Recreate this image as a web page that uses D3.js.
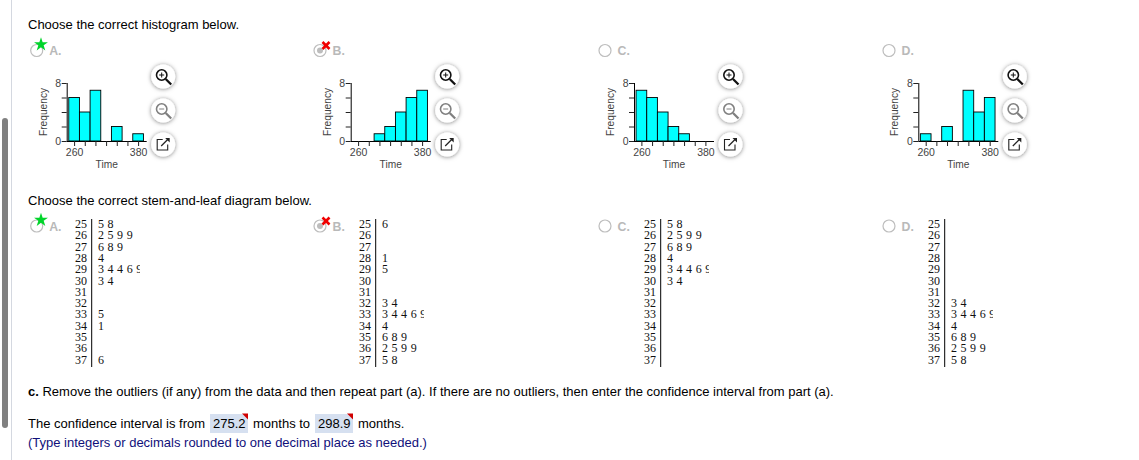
<!DOCTYPE html>
<html><head><meta charset="utf-8">
<script src="https://d3js.org/d3.v7.min.js"></script>
<style>html,body{margin:0;padding:0;background:#fff;overflow:hidden}svg{display:block}
text{font-family:"Liberation Sans",Arial,sans-serif}</style></head><body>
<svg id="c" width="1139" height="460"></svg>
<script>
const optionLetters = ["A.","B.","C.","D."];
const binStarts = [250,270,290,310,330,350,370];
const histA = [6,4,7,0,2,0,1];
const histB = [0,0,1,2,4,6,7];
const histC = [7,6,4,2,1,0,0];
const histD = [1,0,2,0,7,4,6];
const xTicks = [260,280,300,320,340,360,380];
const stems = [25,26,27,28,29,30,31,32,33,34,35,36,37];
const leavesA = ["5 8","2 5 9 9","6 8 9","4","3 4 4 6 9","3 4","","","5","1","","","6"];
const leavesB = ["6","","","1","5","","","3 4","3 4 4 6 9","4","6 8 9","2 5 9 9","5 8"];
const leavesC = ["5 8","2 5 9 9","6 8 9","4","3 4 4 6 9","3 4","","","","","","",""];
const leavesD = ["","","","","","","","3 4","3 4 4 6 9","4","6 8 9","2 5 9 9","5 8"];
const histograms = [histA,histB,histC,histD];
const leafSets = [leavesA,leavesB,leavesC,leavesD];
const axisLefts = [66.7,350.7,634,918.3];
const radioX = [36.7,320,605,889];
const stemX = [75,359,644,928];

const svg = d3.select("#c");
const defs = svg.append("defs");
const f = defs.append("filter").attr("id","sh").attr("x","-50%").attr("y","-50%").attr("width","200%").attr("height","200%");
f.append("feDropShadow").attr("dx",0).attr("dy",0.5).attr("stdDeviation",2).attr("flood-color","#000").attr("flood-opacity",0.5);

svg.append("rect").attr("x",2).attr("y",118).attr("width",6).attr("height",310).attr("rx",3).attr("fill","#808080");
svg.append("rect").attr("x",11).attr("y",0).attr("width",1).attr("height",460).attr("fill","#d4d8e0");

const txt = (s,x,y,size,fill,extra={})=>{
  const t = svg.append("text").attr("x",x).attr("y",y).attr("font-size",size).attr("fill",fill).text(s);
  Object.entries(extra).forEach(([k,v])=>t.attr(k,v)); return t;
};
txt("Choose the correct histogram below.",28,29,13,"#000");
txt("Choose the correct stem-and-leaf diagram below.",28,205,13,"#000");

function radio(i,cy){
  const x = radioX[i];
  svg.append("circle").attr("cx",x).attr("cy",cy).attr("r",6).attr("fill","#fff").attr("stroke","#bdbdbd").attr("stroke-width",1.2);
  if(i===1) svg.append("circle").attr("cx",x).attr("cy",cy).attr("r",3).attr("fill","#bdbdbd");
  txt(optionLetters[i],x+12.5,cy+4.5,12.3,"#b9b9b9",{"font-weight":"bold"});
  if(i===0){
    svg.append("path").attr("d",d3.symbol().type(d3.symbolStar).size(60)()).attr("transform",`translate(${x+4.3},${cy-6})`).attr("fill","#00d42a");
  }
  if(i===1){
    svg.append("path").attr("d",d3.symbol().type(d3.symbolTimes).size(34)()).attr("transform",`translate(${x+6},${cy-5})`)
      .attr("fill","none").attr("stroke","#f00000").attr("stroke-width",2.6);
  }
}

function button(cx,cy,kind){
  const g = svg.append("g").attr("transform",`translate(${cx},${cy})`);
  g.append("circle").attr("r",12).attr("fill","#fff").attr("filter","url(#sh)");
  if(kind==="pop"){
    g.append("path").attr("d","M-0.5,-5H-6V5.5H4.5V0").attr("fill","none").attr("stroke","#222").attr("stroke-width",1.1);
    g.append("path").attr("d","M-2,1.5L5,-5.5").attr("stroke","#222").attr("stroke-width",1.2);
    g.append("path").attr("d","M2,-6.5H6.5V-2Z").attr("fill","#222");
  } else {
    const col = kind==="in"?"#111":"#808080";
    g.append("circle").attr("cx",-1.5).attr("cy",-1.5).attr("r",5.2).attr("fill","none").attr("stroke",col).attr("stroke-width",1.6);
    g.append("path").attr("d","M2.5,2.5L8,8").attr("stroke",col).attr("stroke-width",2.3);
    g.append("path").attr("d",kind==="in"?"M-4,-1.5H1M-1.5,-4V1":"M-4,-1.5H1").attr("stroke",col).attr("stroke-width",1);
  }
}

histograms.forEach((vals,i)=>{
  radio(i,50.5);
  const x0 = axisLefts[i];
  const x = d3.scaleLinear().domain([260,380]).range([x0+7.4,x0+71.4]);
  const y = d3.scaleLinear().domain([0,8]).range([141,83]);
  const w = x(270)-x(250);
  const g = svg.append("g");
  g.selectAll("rect.b").data(vals.map((v,j)=>({v,s:binStarts[j]})).filter(d=>d.v>0)).join("rect")
    .attr("x",d=>x(d.s)).attr("y",d=>y(d.v)).attr("width",w).attr("height",d=>y(0)-y(d.v))
    .attr("fill","#00ffff").attr("stroke","#000").attr("stroke-width",0.9);
  const xa = d3.axisBottom(x).tickValues(xTicks).tickSize(5).tickFormat(d=>(d===260||d===380)?d:"");
  const ga = g.append("g").attr("transform",`translate(0,141)`).call(xa);
  ga.select(".domain").attr("d",`M${x0},0.5H${x0+80}`).attr("stroke","#000");
  ga.selectAll("line").attr("stroke","#222");
  ga.selectAll("text").attr("font-size",10.5).attr("fill","#444").attr("font-family","Liberation Sans").attr("dy",0).attr("y",14.5);
  const ya = d3.axisLeft(y).tickValues([0,2,4,6,8]).tickSize(5).tickFormat(d=>(d===0||d===8)?d:"");
  const gy = g.append("g").attr("transform",`translate(${x0},0)`).call(ya);
  gy.select(".domain").attr("d",`M0.5,83V141`).attr("stroke","#000");
  gy.selectAll("line").attr("stroke","#222");
  gy.selectAll("text").attr("font-size",10.5).attr("fill","#444").attr("font-family","Liberation Sans").attr("x",-5.5);
  txt("Time",x0+40,167.5,10.2,"#444",{"text-anchor":"middle"});
  txt("Frequency",0,0,10.2,"#444",{"text-anchor":"middle",transform:`translate(${x0-20},112) rotate(-90)`});
  button(x0+96.5,76.5,"in");
  button(x0+96.5,110.5,"out");
  button(x0+96.5,144.5,"pop");
});

const rowY = d3.scalePoint().domain(stems).range([228,363.6]);
leafSets.forEach((leaves,i)=>{
  radio(i,226);
  const sx = stemX[i];
  const clipId = "cl"+i;
  defs.append("clipPath").attr("id",clipId).append("rect").attr("x",sx+22).attr("y",215).attr("width",43).attr("height",155);
  const g = svg.append("g").attr("font-size",12).attr("fill","#111");
  g.selectAll("text.s").data(stems).join("text").attr("x",sx).attr("y",d=>rowY(d))
    .style("font-family","'Liberation Serif',serif").text(d=>d);
  svg.append("line").attr("x1",sx+16.7).attr("x2",sx+16.7).attr("y1",219).attr("y2",367).attr("stroke","#000").attr("stroke-width",1);
  g.append("g").attr("clip-path",`url(#${clipId})`).selectAll("text").data(leaves).join("text")
    .attr("x",sx+23).attr("y",(d,j)=>rowY(stems[j]))
    .style("font-family","'Liberation Serif',serif").style("white-space","pre")
    .attr("letter-spacing",0.28).text(d=>d);
});

const c = txt("",28,395.5,13,"#000");
c.append("tspan").attr("font-weight","bold").text("c.");
c.append("tspan").text(" Remove the outliers (if any) from the data and then repeat part (a). If there are no outliers, then enter the confidence interval from part (a).");
txt("The confidence interval is from",28,428,13,"#000");
[[210,"275.2"],[315,"298.9"]].forEach(([x,v])=>{
  svg.append("rect").attr("x",x).attr("y",414).attr("width",38).attr("height",19).attr("fill","#d6e0f0");
  svg.append("path").attr("d",`M${x+32},413.5H${x+38}V419.5Z`).attr("fill","#d00000");
  txt(v,x+3,428,13,"#000");
});
txt("months to",253,428,13,"#000");
txt("months.",358,428,13,"#000");
txt("(Type integers or decimals rounded to one decimal place as needed.)",28,447,13,"#10107a");
</script></body></html>
